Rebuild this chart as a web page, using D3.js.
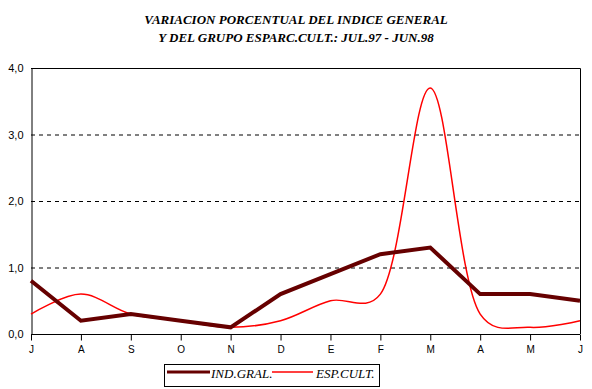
<!DOCTYPE html>
<meta charset="utf-8">
<style>
body { margin: 0; background: #fff; }
.title { font-family: "Liberation Serif", "Times New Roman", serif; font-weight: bold; font-style: italic; font-size: 13px; }
.tick text { font-family: "Liberation Sans", Arial, sans-serif; font-size: 10px; fill: #000; }
.legend text { font-family: "Liberation Serif", "Times New Roman", serif; font-style: italic; font-size: 13px; }
</style>
<script src="https://d3js.org/d3.v7.min.js"></script>
<svg id="chart" width="592" height="389"></svg>
<script>

var months = ["J", "A", "S", "O", "N", "D", "E", "F", "M", "A", "M", "J"];
var indGral = [0.8, 0.2, 0.3, 0.2, 0.1, 0.6, 0.9, 1.2, 1.3, 0.6, 0.6, 0.5];
var espCult = [0.3, 0.6, 0.3, 0.2, 0.1, 0.2, 0.5, 0.6, 3.7, 0.3, 0.1, 0.2];
var yTicks = [0, 1, 2, 3, 4];
var titleLines = ["VARIACION PORCENTUAL DEL INDICE GENERAL", "Y DEL GRUPO ESPARC.CULT.: JUL.97 - JUN.98"];

var svg = d3.select("#chart");

var x = d3.scaleLinear().domain([0, months.length - 1]).range([31, 580]);
var y = d3.scaleLinear().domain([0, 4]).range([334, 68]);

// title
svg.selectAll("text.title")
  .data(titleLines)
  .enter().append("text")
    .attr("class", "title")
    .attr("x", 296)
    .attr("y", function(d, i) { return 24 + i * 18; })
    .attr("text-anchor", "middle")
    .text(function(d) { return d; });

// dashed gridlines
svg.append("g")
  .selectAll("line")
  .data(yTicks.filter(function(d) { return d > 0 && d < 4; }))
  .enter().append("line")
    .attr("x1", x.range()[0])
    .attr("x2", x.range()[1])
    .attr("y1", function(d) { return y(d) + 0.5; })
    .attr("y2", function(d) { return y(d) + 0.5; })
    .attr("stroke", "#000")
    .attr("stroke-dasharray", "4,4");

// top and right border
svg.append("path")
  .attr("d", "M" + x.range()[0] + "," + (y(4) + 0.5) + "H" + (x.range()[1] + 0.5) + "V" + y(0))
  .attr("fill", "none")
  .attr("stroke", "#000");

// y axis
var yAxis = svg.append("g")
  .attr("transform", "translate(" + (x.range()[0] + 0.5) + ",0)")
  .call(d3.axisLeft(y).tickValues(yTicks).tickSize(0).tickPadding(8)
    .tickFormat(function(d) { return d3.format(".1f")(d).replace(".", ","); }));
yAxis.select(".domain").attr("stroke", "#000");
yAxis.selectAll("text").style("font-size", "11px");

// x axis
var xAxis = svg.append("g")
  .attr("transform", "translate(0," + (y(0) + 0.5) + ")")
  .call(d3.axisBottom(x).tickValues(d3.range(months.length)).tickSize(6).tickPadding(5)
    .tickFormat(function(i) { return months[i]; }));
xAxis.selectAll("line").attr("stroke", "#000");
xAxis.select(".domain").attr("d", "M" + x.range()[0] + ",0H" + x.range()[1]).attr("stroke", "#000");

// series
var lineStraight = d3.line()
  .x(function(d, i) { return x(i); })
  .y(function(d) { return y(d); });

var lineSmooth = d3.line()
  .x(function(d, i) { return x(i); })
  .y(function(d) { return y(d); })
  .curve(d3.curveCatmullRom.alpha(0.3));

svg.append("path")
  .datum(espCult)
  .attr("fill", "none")
  .attr("stroke", "#ff0000")
  .attr("stroke-width", 1.5)
  .attr("d", lineSmooth);

svg.append("path")
  .datum(indGral)
  .attr("fill", "none")
  .attr("stroke", "#660000")
  .attr("stroke-width", 4)
  .attr("d", lineStraight);

// legend
var legend = svg.append("g").attr("class", "legend");
legend.append("rect")
  .attr("x", 164.5).attr("y", 364.5)
  .attr("width", 215).attr("height", 22)
  .attr("fill", "#fff").attr("stroke", "#000");
legend.append("line")
  .attr("x1", 167).attr("x2", 210).attr("y1", 372).attr("y2", 372)
  .attr("stroke", "#660000").attr("stroke-width", 3);
legend.append("text").attr("x", 211).attr("y", 378).text("IND.GRAL.");
legend.append("line")
  .attr("x1", 272).attr("x2", 313).attr("y1", 372).attr("y2", 372)
  .attr("stroke", "#ff0000").attr("stroke-width", 1.5);
legend.append("text").attr("x", 316).attr("y", 378).text("ESP.CULT.");
</script>
